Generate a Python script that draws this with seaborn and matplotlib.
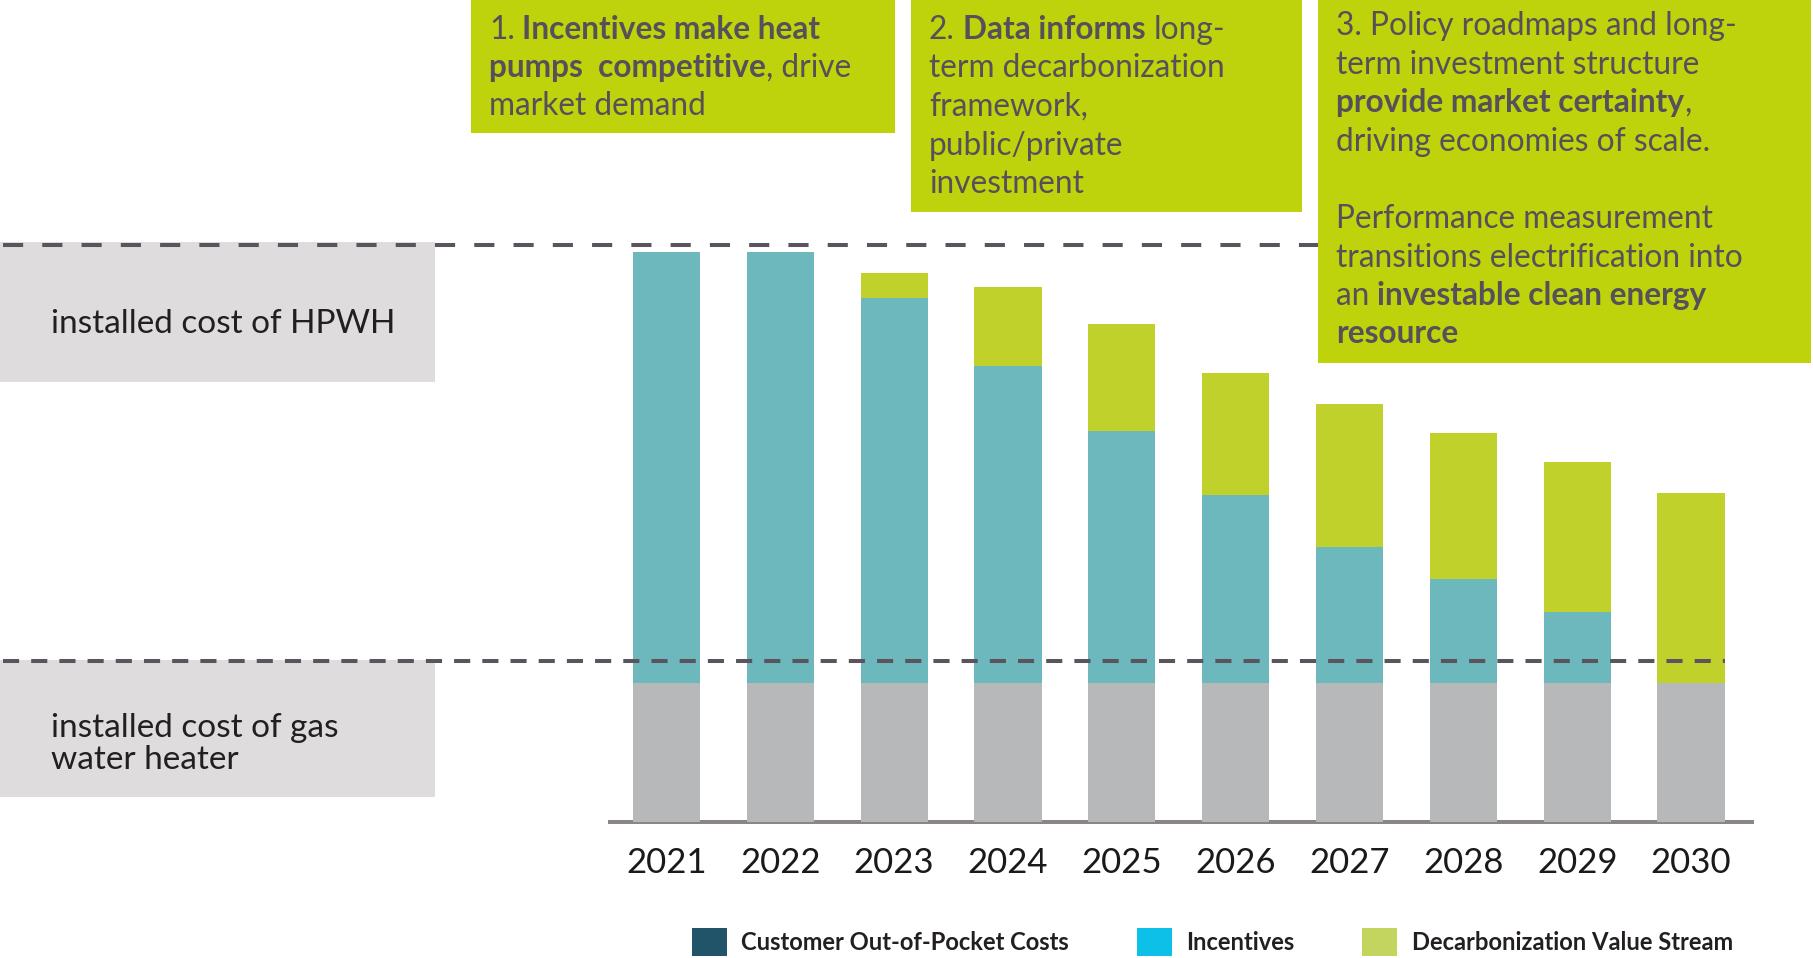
import matplotlib
matplotlib.use("Agg")
import matplotlib.pyplot as plt
import matplotlib.transforms as mtransforms
from matplotlib.patches import Rectangle, Patch
from matplotlib.lines import Line2D
import pandas as pd
import seaborn as sns

# ---- data (cost per installed water heater, $) ----
years = ["2021", "2022", "2023", "2024", "2025", "2026", "2027", "2028", "2029", "2030"]
gas_cost = [1000, 1000, 1000, 1000, 1000, 1000, 1000, 1000, 1000, 1000]
incentives = [3100, 3100, 2770, 2280, 1810, 1350, 980, 750, 510, 0]
decarb_value = [0, 0, 180, 570, 770, 880, 1030, 1050, 1080, 1370]

hpwh_reference = 4150   # installed cost of HPWH (dashed guide)
gas_reference = 1160    # installed cost of gas water heater (dashed guide)

legend_labels = ["Customer Out-of-Pocket Costs", "Incentives", "Decarbonization Value Stream"]

# ---- styling ----
sns.set_theme(style="white")
plt.rcParams["font.family"] = ["Lato", "DejaVu Sans"]

GRAY_BAR = "#b7b8ba"
TEAL_BAR = "#6db8bd"
LIME_BAR = "#c1d12b"
BOX_LIME = "#bed30b"
LABEL_BOX = "#dedcdd"
DASH = "#59545d"
BOX_TEXT = "#55505a"
DARK_TEXT = "#231f20"

W, H = 1813, 958
fig = plt.figure(figsize=(W / 100, H / 100), dpi=100)


def fx(px):
    return px / W


def fy(py):
    return 1 - py / H


# ---- stacked bars ----
df = pd.DataFrame({"year": years, "gas": gas_cost, "inc": incentives, "dec": decarb_value})
df["gas_inc"] = df["gas"] + df["inc"]
df["total"] = df["gas_inc"] + df["dec"]

ax = fig.add_axes([fx(610), fy(822), (1752 - 610) / W, (822 - 196.5) / H])
common = dict(x="year", ax=ax, width=0.59, errorbar=None, linewidth=0, saturation=1)
sns.barplot(data=df, y="total", color=LIME_BAR, **common)
sns.barplot(data=df, y="gas_inc", color=TEAL_BAR, **common)
sns.barplot(data=df, y="gas", color=GRAY_BAR, **common)

ax.set_xlim(-0.4965, 9.536)
ax.set_ylim(0, 4500)
ax.set_xlabel("")
ax.set_ylabel("")
ax.set_yticks([])
ax.set_facecolor("none")
for side in ["left", "right", "top"]:
    ax.spines[side].set_visible(False)
ax.spines["bottom"].set_color("#8b8589")
ax.spines["bottom"].set_linewidth(2.9)
ax.spines["bottom"].set_zorder(0.5)
ax.tick_params(axis="x", length=0, pad=18, labelsize=25, labelcolor="#1a1a1a")

# ---- grey label panels on the left ----
fig.add_artist(Rectangle((fx(0), fy(382)), fx(435), (382 - 242) / H,
                         transform=fig.transFigure, facecolor=LABEL_BOX, edgecolor="none", zorder=1))
fig.add_artist(Rectangle((fx(0), fy(797)), fx(435), (797 - 660) / H,
                         transform=fig.transFigure, facecolor=LABEL_BOX, edgecolor="none", zorder=1))
fig.text(fx(51), fy(333), "installed cost of HPWH", fontsize=24, color=DARK_TEXT, va="baseline", zorder=2)
fig.text(fx(51), fy(737), "installed cost of gas", fontsize=24, color=DARK_TEXT, va="baseline", zorder=2)
fig.text(fx(51), fy(769), "water heater", fontsize=24, color=DARK_TEXT, va="baseline", zorder=2)

# ---- dashed guide lines ----
blend = mtransforms.blended_transform_factory(fig.transFigure, ax.transData)
fig.add_artist(Line2D([fx(3), fx(1330)], [hpwh_reference, hpwh_reference], transform=blend,
                      color=DASH, lw=2.9, linestyle=(0, (5, 4.75)), zorder=3))
fig.add_artist(Line2D([fx(3), fx(1725)], [gas_reference, gas_reference], transform=blend,
                      color=DASH, lw=2.9, linestyle=(0, (4, 3)), zorder=3))

# ---- green callout boxes ----
for x0, x1, y1 in [(471, 895, 133), (911, 1302, 212), (1318, 1811, 363)]:
    fig.add_artist(Rectangle((fx(x0), fy(y1)), (x1 - x0) / W, y1 / H,
                             transform=fig.transFigure, facecolor=BOX_LIME, edgecolor="none", zorder=4))

renderer = fig.canvas.get_renderer()
_space_cache = {}


def space_width(weight, size):
    key = (weight, size)
    if key not in _space_cache:
        a = fig.text(0, 0, "n n", fontsize=size, fontweight=weight)
        b = fig.text(0, 0, "nn", fontsize=size, fontweight=weight)
        _space_cache[key] = a.get_window_extent(renderer).width - b.get_window_extent(renderer).width
        a.remove()
        b.remove()
    return _space_cache[key]


def rich_line(x_px, y_px, segments, size=22.8, color=BOX_TEXT):
    x = x_px
    for text, bold in segments:
        weight = "bold" if bold else "normal"
        if text.startswith(" "):
            x += space_width(weight, size)
        body = text.strip()
        t = fig.text(fx(x), fy(y_px), body, fontsize=size, fontweight=weight, color=color,
                     va="baseline", ha="left", zorder=5)
        x += t.get_window_extent(renderer).width
        if text.endswith(" "):
            x += space_width(weight, size)


R, B = False, True
box1 = [
    (39, [("1.", R), (" Incentives make heat", B)]),
    (77, [("pumps  competitive", B), (", drive", R)]),
    (115, [("market demand", R)]),
]
box2 = [
    (39, [("2.", R), (" Data informs", B), (" long-", R)]),
    (77, [("term decarbonization", R)]),
    (116, [("framework,", R)]),
    (155, [("public/private", R)]),
    (193, [("investment", R)]),
]
box3 = [
    (35, [("3. Policy roadmaps and long-", R)]),
    (74, [("term investment structure", R)]),
    (112, [("provide market certainty", B), (",", R)]),
    (151, [("driving economies of scale.", R)]),
    (228, [("Performance measurement", R)]),
    (267, [("transitions electrification into", R)]),
    (305, [("an", R), (" investable clean energy", B)]),
    (343, [("resource", B)]),
]
for x0, lines in [(489, box1), (929, box2), (1336, box3)]:
    for y, segs in lines:
        rich_line(x0, y, segs)

# ---- legend ----
handles = [Patch(facecolor=c, edgecolor="none") for c in ["#215468", "#0dc0e8", "#c4d55f"]]
fig.legend(handles, legend_labels, loc="center left", bbox_to_anchor=(fx(692), fy(942)),
           ncol=3, frameon=False, prop={"weight": "bold", "size": 17.1},
           handlelength=1.46, handleheight=1.46, handletextpad=0.62, columnspacing=2.85,
           borderpad=0, borderaxespad=0, labelcolor=DARK_TEXT)

fig.savefig("out.png", dpi=100)
